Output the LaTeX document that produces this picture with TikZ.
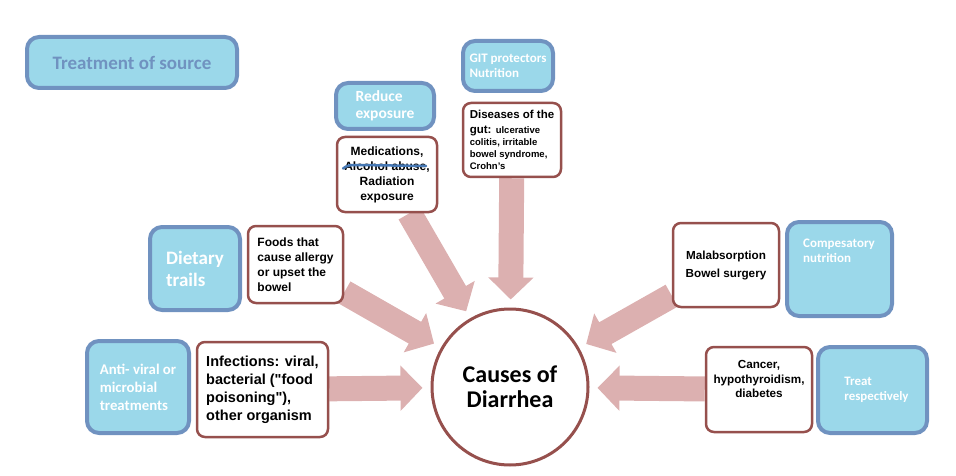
\documentclass[tikz,border=0pt]{standalone}
\usepackage{fontspec}
\setmainfont{Liberation Sans}
\newfontfamily\calibri{Carlito}
\usetikzlibrary{arrows.meta,backgrounds}
\definecolor{aidfill}{RGB}{155,216,234}
\definecolor{aidline}{RGB}{112,146,192}
\definecolor{causeline}{RGB}{150,80,77}
\definecolor{arrowpink}{RGB}{220,176,176}
\definecolor{strikeblue}{RGB}{70,120,180}
\newcommand\gutsmall{\fontsize{9.5}{12}\selectfont}

\begin{document}
\begin{tikzpicture}[x=1pt, y=-1pt,
    causebox/.style n args={2}{rectangle, draw=causeline, line width=2.5pt, fill=white, rounded corners=8pt, inner sep=0pt, align=left, font=\bfseries\fontsize{#1}{#2}\selectfont},
    aidbox/.style n args={2}{rectangle, draw=aidline, line width=4pt, fill=aidfill, rounded corners=12pt, inner sep=0pt, align=left, text=white, font=\calibri\bfseries\fontsize{#1}{#2}\selectfont},
    fatarrow/.style={draw=arrowpink, line width=25pt, -{Triangle[width=44pt,length=22pt]}, shorten >=8pt}]
    \useasboundingbox (0,0) rectangle (956,476);
    \node[aidbox={19}{22}, text=aidline, minimum width=210pt, minimum height=51pt] (src) at (132,62.5) {Treatment of source};
    \node[aidbox={15.5}{17}, minimum width=98pt, minimum height=46pt] (reduce) at (385,106) {Reduce\\exposure\hspace{8pt}};
    \node[aidbox={13}{15}, minimum width=90pt, minimum height=50pt] (git) at (508,66) {GIT protectors\\Nutrition};
    \node[causebox={12}{15}, align=center, minimum width=100pt, minimum height=75pt] (med) at (387,174.5) {Medications,\\Alcohol abuse,\\Radiation\\exposure};
    \node[causebox={11.5}{12}, minimum width=98pt, minimum height=74pt] (gut) at (512,140) {Diseases of the\\[3pt]gut: \gutsmall ulcerative\\\gutsmall colitis, irritable\\\gutsmall bowel syndrome,\\\gutsmall Crohn's};
    \node[aidbox={19}{22}, minimum width=90pt, minimum height=83pt] (diet) at (195,268.5) {Dietary\\trails};
    \node[causebox={12}{15}, minimum width=95pt, minimum height=77pt] (foods) at (295.5,264.5) {Foods that\\cause allergy\\or upset the\\bowel};
    \node[aidbox={14.8}{18}, minimum width=102pt, minimum height=92pt] (anti) at (138,387) {Anti- viral or\\microbial\\treatments};
    \node[causebox={14.5}{18}, minimum width=131pt, minimum height=95pt] (inf) at (262.5,389.5) {Infections: viral,\\bacterial (\textquotedbl food\\poisoning\textquotedbl),\\other organism};
    \node[causebox={11.7}{18}, align=center, minimum width=106pt, minimum height=84pt] (malab) at (726,265) {Malabsorption\\Bowel surgery};
    \node[aidbox={13}{15}, minimum width=105pt, minimum height=94pt] (comp) at (839.5,269) {};
    \node[inner sep=0pt, anchor=north west, align=left, text=white, font=\calibri\bfseries\fontsize{13}{15}\selectfont] (comptext) at ([shift={(18pt,-19pt)}]comp.north west) {Compesatory\\nutrition};
    \node[causebox={11.7}{14.5}, align=center, minimum width=106pt, minimum height=85pt] (cancer) at (759,389.5) {Cancer,\\hypothyroidism,\\diabetes\\[6pt]};
    \node[aidbox={12.9}{15}, minimum width=109pt, minimum height=86pt] (treat) at (872.5,390) {\hspace{8pt}Treat\\\hspace{8pt}respectively};
    \node[circle, draw=causeline, line width=3pt, fill=white, minimum size=156pt, align=center, font=\calibri\bfseries\fontsize{24}{25}\selectfont] (cause) at (510,387) {Causes of\\Diarrhea};
    \draw[strikeblue, line width=2.5pt, line cap=round] ([shift={(-44pt,6pt)}]med.center) to[out=40,in=180] ([shift={(-30pt,9.5pt)}]med.center) -- ([shift={(39pt,8.5pt)}]med.center);
    \begin{scope}[on background layer]
        \draw[fatarrow] (med) -- (cause);
        \draw[fatarrow] (gut) -- (cause);
        \draw[fatarrow] (foods) -- (cause);
        \draw[fatarrow] (inf) -- (cause);
        \draw[fatarrow] (malab) -- (cause);
        \draw[fatarrow] (cancer) -- (cause);
    \end{scope}
\end{tikzpicture}
\end{document}
